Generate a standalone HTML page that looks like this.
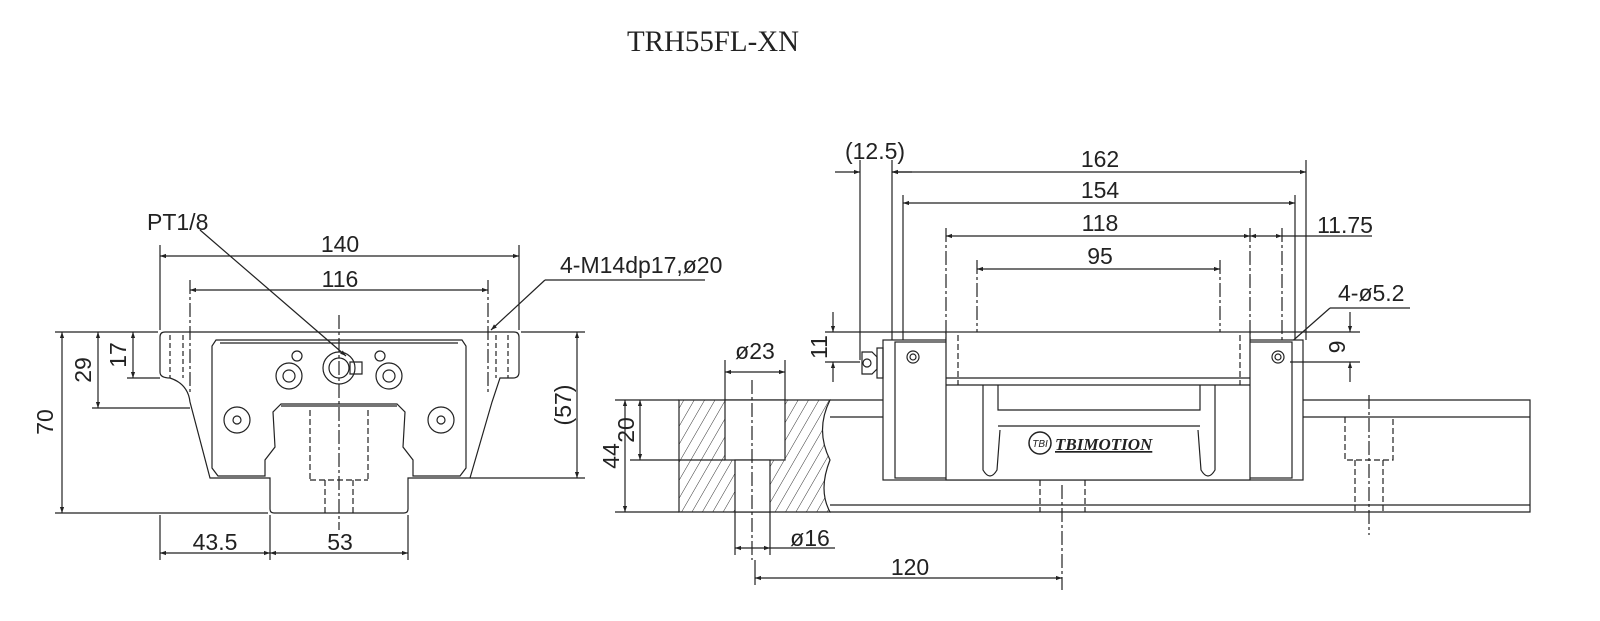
<!DOCTYPE html>
<html><head><meta charset="utf-8"><style>
html,body{margin:0;padding:0;background:#fff;width:1600px;height:621px;overflow:hidden}
svg text{font-family:"Liberation Sans Narrow","Liberation Sans",sans-serif;fill:#222}
</style></head><body>
<svg width="1600" height="621" viewBox="0 0 1600 621" xmlns="http://www.w3.org/2000/svg">
<defs>
<marker id="a" viewBox="0 0 10 10" refX="10" refY="5" markerWidth="12" markerHeight="6" markerUnits="userSpaceOnUse" orient="auto-start-reverse"><path d="M0,1.5L10,5L0,8.5z" fill="#222"/></marker>
<pattern id="h" width="9" height="9" patternUnits="userSpaceOnUse" patternTransform="rotate(30)"><line x1="0" y1="0" x2="0" y2="9" stroke="#333" stroke-width="1"/></pattern>
</defs>
<text x="713" y="51" font-size="30" text-anchor="middle" style="font-family:'Liberation Serif',serif" textLength="172" lengthAdjust="spacingAndGlyphs">TRH55FL-XN</text>

<g stroke="#222" stroke-width="1.2" fill="none">
<line x1="160" y1="245" x2="160" y2="330"/><line x1="519" y1="245" x2="519" y2="330"/>
<line x1="190" y1="280" x2="190" y2="395" stroke-dasharray="14,3,3,3"/><line x1="488" y1="280" x2="488" y2="395" stroke-dasharray="14,3,3,3"/>
<line x1="160" y1="256" x2="519" y2="256" marker-start="url(#a)" marker-end="url(#a)"/>
<line x1="190" y1="290" x2="488" y2="290" marker-start="url(#a)" marker-end="url(#a)"/>
<line x1="200" y1="230" x2="346" y2="356" marker-end="url(#a)"/>
<line x1="705" y1="280" x2="545" y2="280"/><line x1="545" y1="280" x2="491" y2="330" marker-end="url(#a)"/>
<path d="M165,332 H514 Q519,332 519,337 V372 Q519,378 513,378 H500 L492,402 L470,478 H408 V509 Q408,513 404,513 H274 Q270,513 270,509 V478 H210 L190,402 Q188,384 170,378 Q160,378 160,372 V337 Q160,332 165,332 Z"/>
<path d="M216,340 H462 L466,346 V468 L460,476 H413 V460 L403,447 L405,412 L397,404 H281 L273,412 L275,447 L265,460 V476 H218 L212,468 V346 Z"/>
<path d="M220,343 H458 M281,406 H397"/>
<line x1="170" y1="335" x2="170" y2="378" stroke-dasharray="5,3"/><line x1="183" y1="335" x2="183" y2="378" stroke-dasharray="5,3"/>
<line x1="496" y1="335" x2="496" y2="378" stroke-dasharray="5,3"/><line x1="508" y1="335" x2="508" y2="378" stroke-dasharray="5,3"/>
<line x1="310" y1="410" x2="310" y2="480" stroke-dasharray="6,3"/><line x1="368" y1="410" x2="368" y2="480" stroke-dasharray="6,3"/>
<line x1="310" y1="480" x2="368" y2="480" stroke-dasharray="6,3"/>
<line x1="325" y1="480" x2="325" y2="513" stroke-dasharray="6,3"/><line x1="353" y1="480" x2="353" y2="513" stroke-dasharray="6,3"/>
<line x1="339" y1="315" x2="339" y2="530" stroke-dasharray="14,3,3,3"/>
<circle cx="339" cy="368" r="16"/><circle cx="339" cy="368" r="10"/>
<circle cx="289" cy="376" r="13"/><circle cx="289" cy="376" r="6"/>
<circle cx="389" cy="376" r="13"/><circle cx="389" cy="376" r="6"/>
<circle cx="297" cy="356" r="5"/><circle cx="380" cy="356" r="5"/>
<circle cx="237" cy="420" r="13"/><circle cx="237" cy="420" r="4"/>
<circle cx="441" cy="420" r="13"/><circle cx="441" cy="420" r="4"/>
<path d="M350,362 h12 v12 h-12z"/>
<line x1="55" y1="332" x2="158" y2="332"/><line x1="55" y1="513" x2="268" y2="513"/>
<line x1="62" y1="332" x2="62" y2="513" marker-start="url(#a)" marker-end="url(#a)"/>
<line x1="92" y1="408" x2="190" y2="408"/>
<line x1="98" y1="332" x2="98" y2="408" marker-start="url(#a)" marker-end="url(#a)"/>
<line x1="127" y1="378" x2="160" y2="378"/>
<line x1="133" y1="332" x2="133" y2="378" marker-start="url(#a)" marker-end="url(#a)"/>
<line x1="521" y1="332" x2="585" y2="332"/><line x1="470" y1="478" x2="585" y2="478"/>
<line x1="577" y1="332" x2="577" y2="478" marker-start="url(#a)" marker-end="url(#a)"/>
<line x1="160" y1="515" x2="160" y2="560"/><line x1="270" y1="515" x2="270" y2="560"/><line x1="408" y1="515" x2="408" y2="560"/>
<line x1="160" y1="553" x2="270" y2="553" marker-start="url(#a)" marker-end="url(#a)"/>
<line x1="270" y1="553" x2="408" y2="553" marker-start="url(#a)" marker-end="url(#a)"/>

<line x1="860" y1="160" x2="860" y2="360"/><line x1="892" y1="160" x2="892" y2="340"/>
<line x1="903" y1="195" x2="903" y2="340"/><line x1="1306" y1="160" x2="1306" y2="340"/><line x1="1295" y1="195" x2="1295" y2="340"/>
<line x1="946" y1="228" x2="946" y2="390" stroke-dasharray="14,3,3,3"/><line x1="1250" y1="228" x2="1250" y2="390" stroke-dasharray="14,3,3,3"/>
<line x1="977" y1="260" x2="977" y2="390" stroke-dasharray="14,3,3,3"/><line x1="1220" y1="260" x2="1220" y2="390" stroke-dasharray="14,3,3,3"/>
<line x1="1282" y1="228" x2="1282" y2="380" stroke-dasharray="14,3,3,3"/>
<line x1="835" y1="172" x2="860" y2="172" marker-end="url(#a)"/><line x1="892" y1="172" x2="912" y2="172" marker-start="url(#a)"/>
<line x1="892" y1="172" x2="1306" y2="172" marker-start="url(#a)" marker-end="url(#a)"/>
<line x1="903" y1="203" x2="1295" y2="203" marker-start="url(#a)" marker-end="url(#a)"/>
<line x1="946" y1="236" x2="1250" y2="236" marker-start="url(#a)" marker-end="url(#a)"/>
<line x1="977" y1="269" x2="1220" y2="269" marker-start="url(#a)" marker-end="url(#a)"/>
<line x1="1250" y1="236" x2="1282" y2="236" marker-end="url(#a)" marker-start="url(#a)"/><line x1="1282" y1="236" x2="1372" y2="236"/>
<line x1="1410" y1="308" x2="1330" y2="308"/><line x1="1330" y1="308" x2="1280" y2="352" marker-end="url(#a)"/>
<path d="M830,400 H1530 V512 H830"/><line x1="830" y1="417" x2="1530" y2="417"/><line x1="830" y1="505" x2="1530" y2="505"/>
<rect x="883" y="340" width="420" height="140" fill="#fff"/>
<rect x="895" y="342" width="397" height="136"/>
<rect x="946" y="332" width="304" height="148" fill="#fff"/>
<line x1="946" y1="385" x2="1250" y2="385"/><line x1="946" y1="378" x2="1250" y2="378"/>
<path d="M998,385 V410 H1200 V385"/><line x1="998" y1="426" x2="1200" y2="426"/>
<path d="M983,385 V470 Q990,482 997,470 L1000,430"/><path d="M1215,385 V470 Q1208,482 1201,470 L1198,430"/>
<line x1="958" y1="335" x2="958" y2="385" stroke-dasharray="6,3"/><line x1="1240" y1="335" x2="1240" y2="385" stroke-dasharray="6,3"/>
<line x1="1040" y1="480" x2="1040" y2="512" stroke-dasharray="6,3"/><line x1="1085" y1="480" x2="1085" y2="512" stroke-dasharray="6,3"/>
<line x1="1062" y1="485" x2="1062" y2="590" stroke-dasharray="14,3,3,3"/>
<path d="M1345,417 V460 H1393 V417" stroke-dasharray="6,3"/>
<line x1="1355" y1="460" x2="1355" y2="512" stroke-dasharray="6,3"/><line x1="1383" y1="460" x2="1383" y2="512" stroke-dasharray="6,3"/>
<line x1="1369" y1="395" x2="1369" y2="535" stroke-dasharray="14,3,3,3"/>
<circle cx="913" cy="357" r="6"/><circle cx="913" cy="357" r="3"/>
<circle cx="1278" cy="357" r="6"/><circle cx="1278" cy="357" r="3"/>
<path d="M862,352 h10 l5,5 v12 l-5,5 h-10 z"/><circle cx="867" cy="363" r="4"/><rect x="877" y="348" width="6" height="30"/>
<path d="M679,400 H830 Q815,430 830,460 Q818,490 830,512 H679 Z" fill="url(#h)"/>
<rect x="725" y="400" width="60" height="60" fill="#fff"/><rect x="735" y="460" width="35" height="52" fill="#fff"/>
<line x1="752" y1="380" x2="752" y2="560" stroke-dasharray="14,3,3,3"/>
<line x1="725" y1="360" x2="725" y2="400"/><line x1="785" y1="360" x2="785" y2="400"/>
<line x1="725" y1="372" x2="785" y2="372" marker-start="url(#a)" marker-end="url(#a)"/>
<line x1="615" y1="400" x2="679" y2="400"/><line x1="615" y1="512" x2="679" y2="512"/><line x1="630" y1="460" x2="725" y2="460"/>
<line x1="640" y1="400" x2="640" y2="460" marker-start="url(#a)" marker-end="url(#a)"/>
<line x1="625" y1="400" x2="625" y2="512" marker-start="url(#a)" marker-end="url(#a)"/>
<line x1="735" y1="512" x2="735" y2="555"/><line x1="770" y1="512" x2="770" y2="555"/>
<line x1="735" y1="548" x2="770" y2="548" marker-start="url(#a)" marker-end="url(#a)"/><line x1="770" y1="548" x2="835" y2="548"/>
<line x1="755" y1="560" x2="755" y2="585"/>
<line x1="755" y1="578" x2="1062" y2="578" marker-start="url(#a)" marker-end="url(#a)"/>
<line x1="825" y1="332" x2="946" y2="332"/><line x1="825" y1="362" x2="860" y2="362"/>
<line x1="833" y1="312" x2="833" y2="332" marker-end="url(#a)"/><line x1="833" y1="382" x2="833" y2="362" marker-end="url(#a)"/>
<line x1="1250" y1="332" x2="1360" y2="332"/><line x1="1290" y1="362" x2="1360" y2="362"/>
<line x1="1350" y1="312" x2="1350" y2="332" marker-end="url(#a)"/><line x1="1350" y1="382" x2="1350" y2="362" marker-end="url(#a)"/>
</g>
<g font-size="23">
<text x="340" y="252" text-anchor="middle">140</text>
<text x="340" y="287" text-anchor="middle">116</text>
<text x="147" y="230">PT1/8</text>
<text x="560" y="273">4-M14dp17,ø20</text>
<text x="215" y="550" text-anchor="middle">43.5</text>
<text x="340" y="550" text-anchor="middle">53</text>
<text transform="translate(53,422) rotate(-90)" text-anchor="middle">70</text>
<text transform="translate(91,370) rotate(-90)" text-anchor="middle">29</text>
<text transform="translate(126,355) rotate(-90)" text-anchor="middle">17</text>
<text transform="translate(571,405) rotate(-90)" text-anchor="middle">(57)</text>
<text x="875" y="159" text-anchor="middle">(12.5)</text>
<text x="1100" y="167" text-anchor="middle">162</text>
<text x="1100" y="198" text-anchor="middle">154</text>
<text x="1100" y="231" text-anchor="middle">118</text>
<text x="1100" y="264" text-anchor="middle">95</text>
<text x="1345" y="233" text-anchor="middle">11.75</text>
<text x="1338" y="301">4-ø5.2</text>
<text x="755" y="359" text-anchor="middle">ø23</text>
<text x="810" y="546" text-anchor="middle">ø16</text>
<text x="910" y="575" text-anchor="middle">120</text>
<text transform="translate(827,347) rotate(-90)" text-anchor="middle">11</text>
<text transform="translate(1345,347) rotate(-90)" text-anchor="middle">9</text>
<text transform="translate(634,430) rotate(-90)" text-anchor="middle">20</text>
<text transform="translate(619,456) rotate(-90)" text-anchor="middle">44</text>
</g>
<circle cx="1040" cy="443" r="11" fill="none" stroke="#222" stroke-width="1.5"/>
<text x="1040" y="447" font-size="10" text-anchor="middle" font-style="italic">TBI</text>
<text x="1055" y="450" font-size="17" font-style="italic" font-weight="bold" text-decoration="underline" style="font-family:'Liberation Serif',serif">TBIMOTION</text>
</svg>
</body></html>
